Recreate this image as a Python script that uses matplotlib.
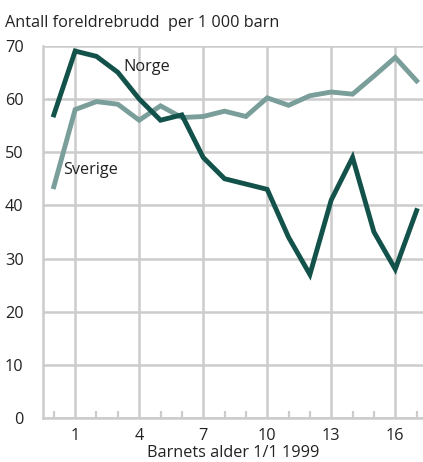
import numpy as np
import matplotlib.pyplot as plt

plt.rcParams['font.family'] = ['Open Sans', 'DejaVu Sans']

# data
alder = list(range(0, 18))
norge = [57, 69, 68, 65, 60, 56, 57, 49, 45, 44, 43, 34, 27, 41, 49, 35, 28, 39]
sverige = [43.5, 58, 59.5, 59, 56, 58.7, 56.5, 56.7, 57.7, 56.7, 60.2, 58.8,
           60.6, 61.3, 60.9, 64.3, 67.8, 63.4]
xticks = [1, 4, 7, 10, 13, 16]
yticks = [0, 10, 20, 30, 40, 50, 60, 70]

grid_col = "#cccccc"
txt_col = "#222222"
fs = 11.7

fig = plt.figure(figsize=(4.23, 4.62), dpi=100)
ax = fig.add_axes([0.102, 0.095, 0.898, 0.806])

ax.plot(alder, sverige, color="#7a9e9a", linewidth=3.5, solid_joinstyle="miter")
ax.plot(alder, norge, color="#12524a", linewidth=3.5, solid_joinstyle="miter")

ax.text(3.25, 65.3, "Norge", fontsize=fs, color=txt_col)
ax.text(0.45, 45.8, "Sverige", fontsize=fs, color=txt_col)

ax.set_xlim(-0.5, 17.3)
ax.set_ylim(0, 70)
ax.set_xticks(xticks)
ax.set_xticks(alder, minor=True)
ax.set_yticks(yticks)

ax.grid(True, which="major", color=grid_col, linewidth=1.8)
ax.set_axisbelow(True)

for s in ["top", "right"]:
    ax.spines[s].set_visible(False)
for s in ["left", "bottom"]:
    ax.spines[s].set_color(grid_col)
    ax.spines[s].set_linewidth(1.8)

ax.tick_params(axis="y", length=0, labelsize=fs, pad=14, colors=txt_col)
ax.tick_params(axis="x", which="major", length=0, labelsize=fs, pad=7, colors=txt_col)
ax.tick_params(axis="x", which="minor", length=5, width=1.6, color=grid_col, direction="in")

ax.set_xlabel("Barnets alder 1/1 1999", fontsize=fs, labelpad=1, color=txt_col)

fig.text(0.012, 0.942, "Antall foreldrebrudd  per 1 000 barn", fontsize=fs, color=txt_col)

plt.savefig("out.png", dpi=100)
